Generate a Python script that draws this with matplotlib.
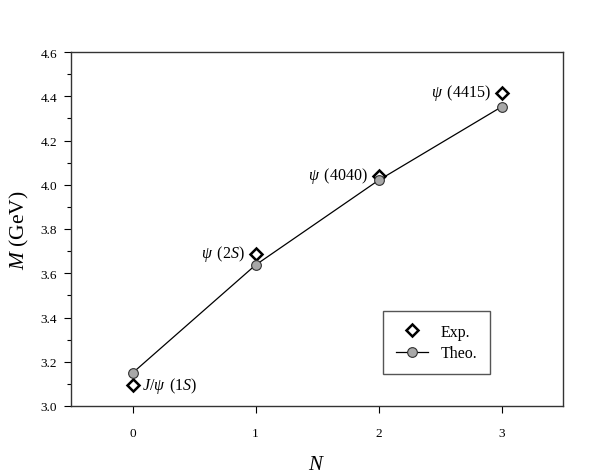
import matplotlib
matplotlib.use("Agg")
import matplotlib.pyplot as plt
from matplotlib.ticker import MultipleLocator

plt.rcParams['font.family'] = ['Liberation Serif', 'DejaVu Serif']
plt.rcParams['mathtext.fontset'] = 'custom'
plt.rcParams['mathtext.rm'] = 'Liberation Serif'
plt.rcParams['mathtext.it'] = 'Liberation Serif:italic'

# data
n = [0, 1, 2, 3]
m_exp = [3.097, 3.686, 4.039, 4.415]
m_theo = [3.149, 3.637, 4.020, 4.352]
names = [r'$J/\psi\,$ (1$S$)', r'$\psi\,$ (2$S$)', r'$\psi\,$ (4040)', r'$\psi\,$ (4415)']

fig = plt.figure(figsize=(5.92, 4.77), dpi=100)
ax = fig.add_axes([71 / 592, 70 / 477, 492 / 592, 354 / 477])

ax.plot(n, m_exp, ls='none', marker='D', ms=6, mfc='white', mec='black',
        mew=1.8, label='Exp.', zorder=2)
ax.plot(n, m_theo, color='black', lw=0.9, marker='o', ms=7,
        mfc='#a8a8a8', mec='#303030', mew=0.8, label='Theo.', zorder=3)

# labels next to each state
ax.annotate(names[0], (n[0], m_exp[0]), xytext=(7, 0), textcoords='offset points',
            ha='left', va='center', fontsize=11.5)
for i in range(1, 4):
    ax.annotate(names[i], (n[i], m_exp[i]), xytext=(-8, 1), textcoords='offset points',
                ha='right', va='center', fontsize=11.5)

ax.set_xlim(-0.5, 3.5)
ax.set_ylim(3.0, 4.6)
ax.set_xticks(n)
ax.yaxis.set_major_locator(MultipleLocator(0.2))
ax.yaxis.set_minor_locator(MultipleLocator(0.1))
ax.yaxis.set_major_formatter(matplotlib.ticker.FormatStrFormatter('%.1f'))
ax.tick_params(direction='out', labelsize=9.5, length=5, width=0.8, pad=5)
ax.tick_params(axis='x', pad=10)
ax.tick_params(which='minor', direction='out', length=3, width=0.8)
for s in ax.spines.values():
    s.set_linewidth(1.0)
    s.set_color('#333333')

ax.set_xlabel(r'$N$', fontsize=15, labelpad=12)
ax.set_ylabel(r'$M$ (GeV)', fontsize=15.5, labelpad=7)

h, l = ax.get_legend_handles_labels()
leg = ax.legend(h, l, loc='lower right',
                bbox_to_anchor=(0.852, 0.09), borderaxespad=0, fontsize=11.5,
                fancybox=False, framealpha=1, edgecolor='#555555', borderpad=0.8,
                handlelength=2.0, labelspacing=0.35)
leg.get_frame().set_linewidth(1.0)

fig.savefig('out.png', dpi=100)
